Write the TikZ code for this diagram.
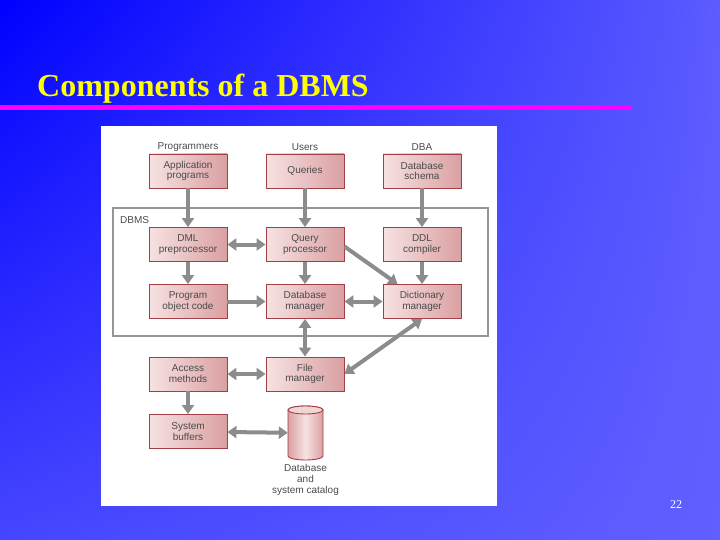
\documentclass[tikz,border=0pt]{standalone}
\usepackage{fontspec}
\setmainfont{Liberation Serif}
\newfontfamily\diagfont{Liberation Sans}
\usetikzlibrary{arrows.meta,shadings}
\definecolor{bgA}{RGB}{0,0,255}
\definecolor{bgB}{RGB}{92,92,255}
\definecolor{bgC}{RGB}{70,70,255}
\definecolor{bgD}{RGB}{96,96,255}
\definecolor{titlecol}{RGB}{255,255,0}
\definecolor{rulecol}{RGB}{255,0,255}
\definecolor{boxL}{RGB}{247,226,226}
\definecolor{boxR}{RGB}{218,160,162}
\definecolor{boxline}{RGB}{160,64,70}
\definecolor{arrowcol}{RGB}{140,140,140}
\definecolor{framecol}{RGB}{150,150,150}
\definecolor{txtcol}{RGB}{75,75,75}
\tikzset{
  comp/.style={draw=boxline, line width=0.9pt, left color=boxL, right color=boxR,
    minimum width=78pt, minimum height=34pt, inner sep=0pt, align=center,
    font=\diagfont\fontsize{10}{10.8}\selectfont, text=txtcol},
  lbl/.style={font=\diagfont\fontsize{10}{10.8}\selectfont, text=txtcol, align=center, inner sep=0pt},
  arr/.style={draw=arrowcol, line width=4pt, -{Triangle[length=9pt,width=12pt]}},
  darr/.style={draw=arrowcol, line width=4pt, {Triangle[length=9pt,width=12pt]}-{Triangle[length=9pt,width=12pt]}},
}
\begin{document}
\begin{tikzpicture}[x=1pt,y=-1pt]
\useasboundingbox (0,0) rectangle (720,540);
\shade[upper left=bgA, upper right=bgB, lower left=bgC, lower right=bgD] (0,0) rectangle (720,540);
\node[anchor=base west, inner sep=0pt, text=titlecol, font=\bfseries\fontsize{32}{36}\selectfont] (title) at (37,97) {Components of a DBMS};
\fill[rulecol] (0,105) rectangle (632,110);
\fill[white] (101,126) rectangle (497,506);
\node[text=white, font=\fontsize{12}{14}\selectfont, inner sep=0pt] (num) at (676,505) {22};
% frame
\draw[framecol, line width=1.8pt] (113,208) rectangle (488,336);
\node[lbl, anchor=west] (dbmslbl) at (120,220) {DBMS};
% top labels
\node[lbl] (prog) at (188,147) {Programmers};
\node[lbl] (users) at (305,147) {Users};
\node[lbl] (dba) at (422,147) {DBA};
% boxes
\node[comp] (app) at (188,171) {Application\\programs};
\node[comp] (qry) at (305,171) {Queries};
\node[comp] (sch) at (422,171) {Database\\schema};
\node[comp] (dml) at (188,244.5) {DML\\preprocessor};
\node[comp] (qp) at (305,244.5) {Query\\processor};
\node[comp] (ddl) at (422,244.5) {DDL\\compiler};
\node[comp] (poc) at (188,301.5) {Program\\object code};
\node[comp] (dbm) at (305,301.5) {Database\\manager};
\node[comp] (dic) at (422,301.5) {Dictionary\\manager};
\node[comp] (acc) at (188,374) {Access\\methods};
\node[comp] (fm) at (305,374) {File\\manager};
\node[comp] (sb) at (188,431.5) {System\\buffers};
% cylinder
\node[minimum width=35pt, minimum height=54pt, inner sep=0pt] (db) at (305.5,433) {};
\shade[left color=boxR, right color=boxR, middle color=boxL, draw=boxline, line width=0.9pt]
  (288,410) -- (288,456) arc[start angle=180, end angle=0, x radius=17.5, y radius=4]
  -- (323,410) arc[start angle=0, end angle=-180, x radius=17.5, y radius=4] -- cycle;
\draw[boxline, line width=0.9pt, fill=boxL!80!boxR] (305.5,410) ellipse[x radius=17.5, y radius=4];
\node[lbl, anchor=north] (dblbl) at (305.5,464) {Database\\and\\system catalog};
% arrows
\draw[arr] (app) -- (dml);
\draw[arr] (qry) -- (qp);
\draw[arr] (sch) -- (ddl);
\draw[darr] (dml) -- (qp);
\draw[arr] (dml) -- (poc);
\draw[arr] (qp) -- (dbm);
\coordinate (qpo) at ([yshift=-2pt]qp.east);
\coordinate (dicin) at ([xshift=15pt]dic.north west);
\draw[arr] (qpo) -- (dicin);
\draw[arr] (ddl) -- (dic);
\draw[arr] (poc) -- (dbm);
\draw[darr] (dbm) -- (dic);
\draw[darr] (dbm) -- (fm);
\draw[darr] (dic.south) -- (fm.east);
\draw[darr] (acc) -- (fm);
\draw[arr] (acc) -- (sb);
\draw[darr] (sb) -- (db);
\end{tikzpicture}
\end{document}
